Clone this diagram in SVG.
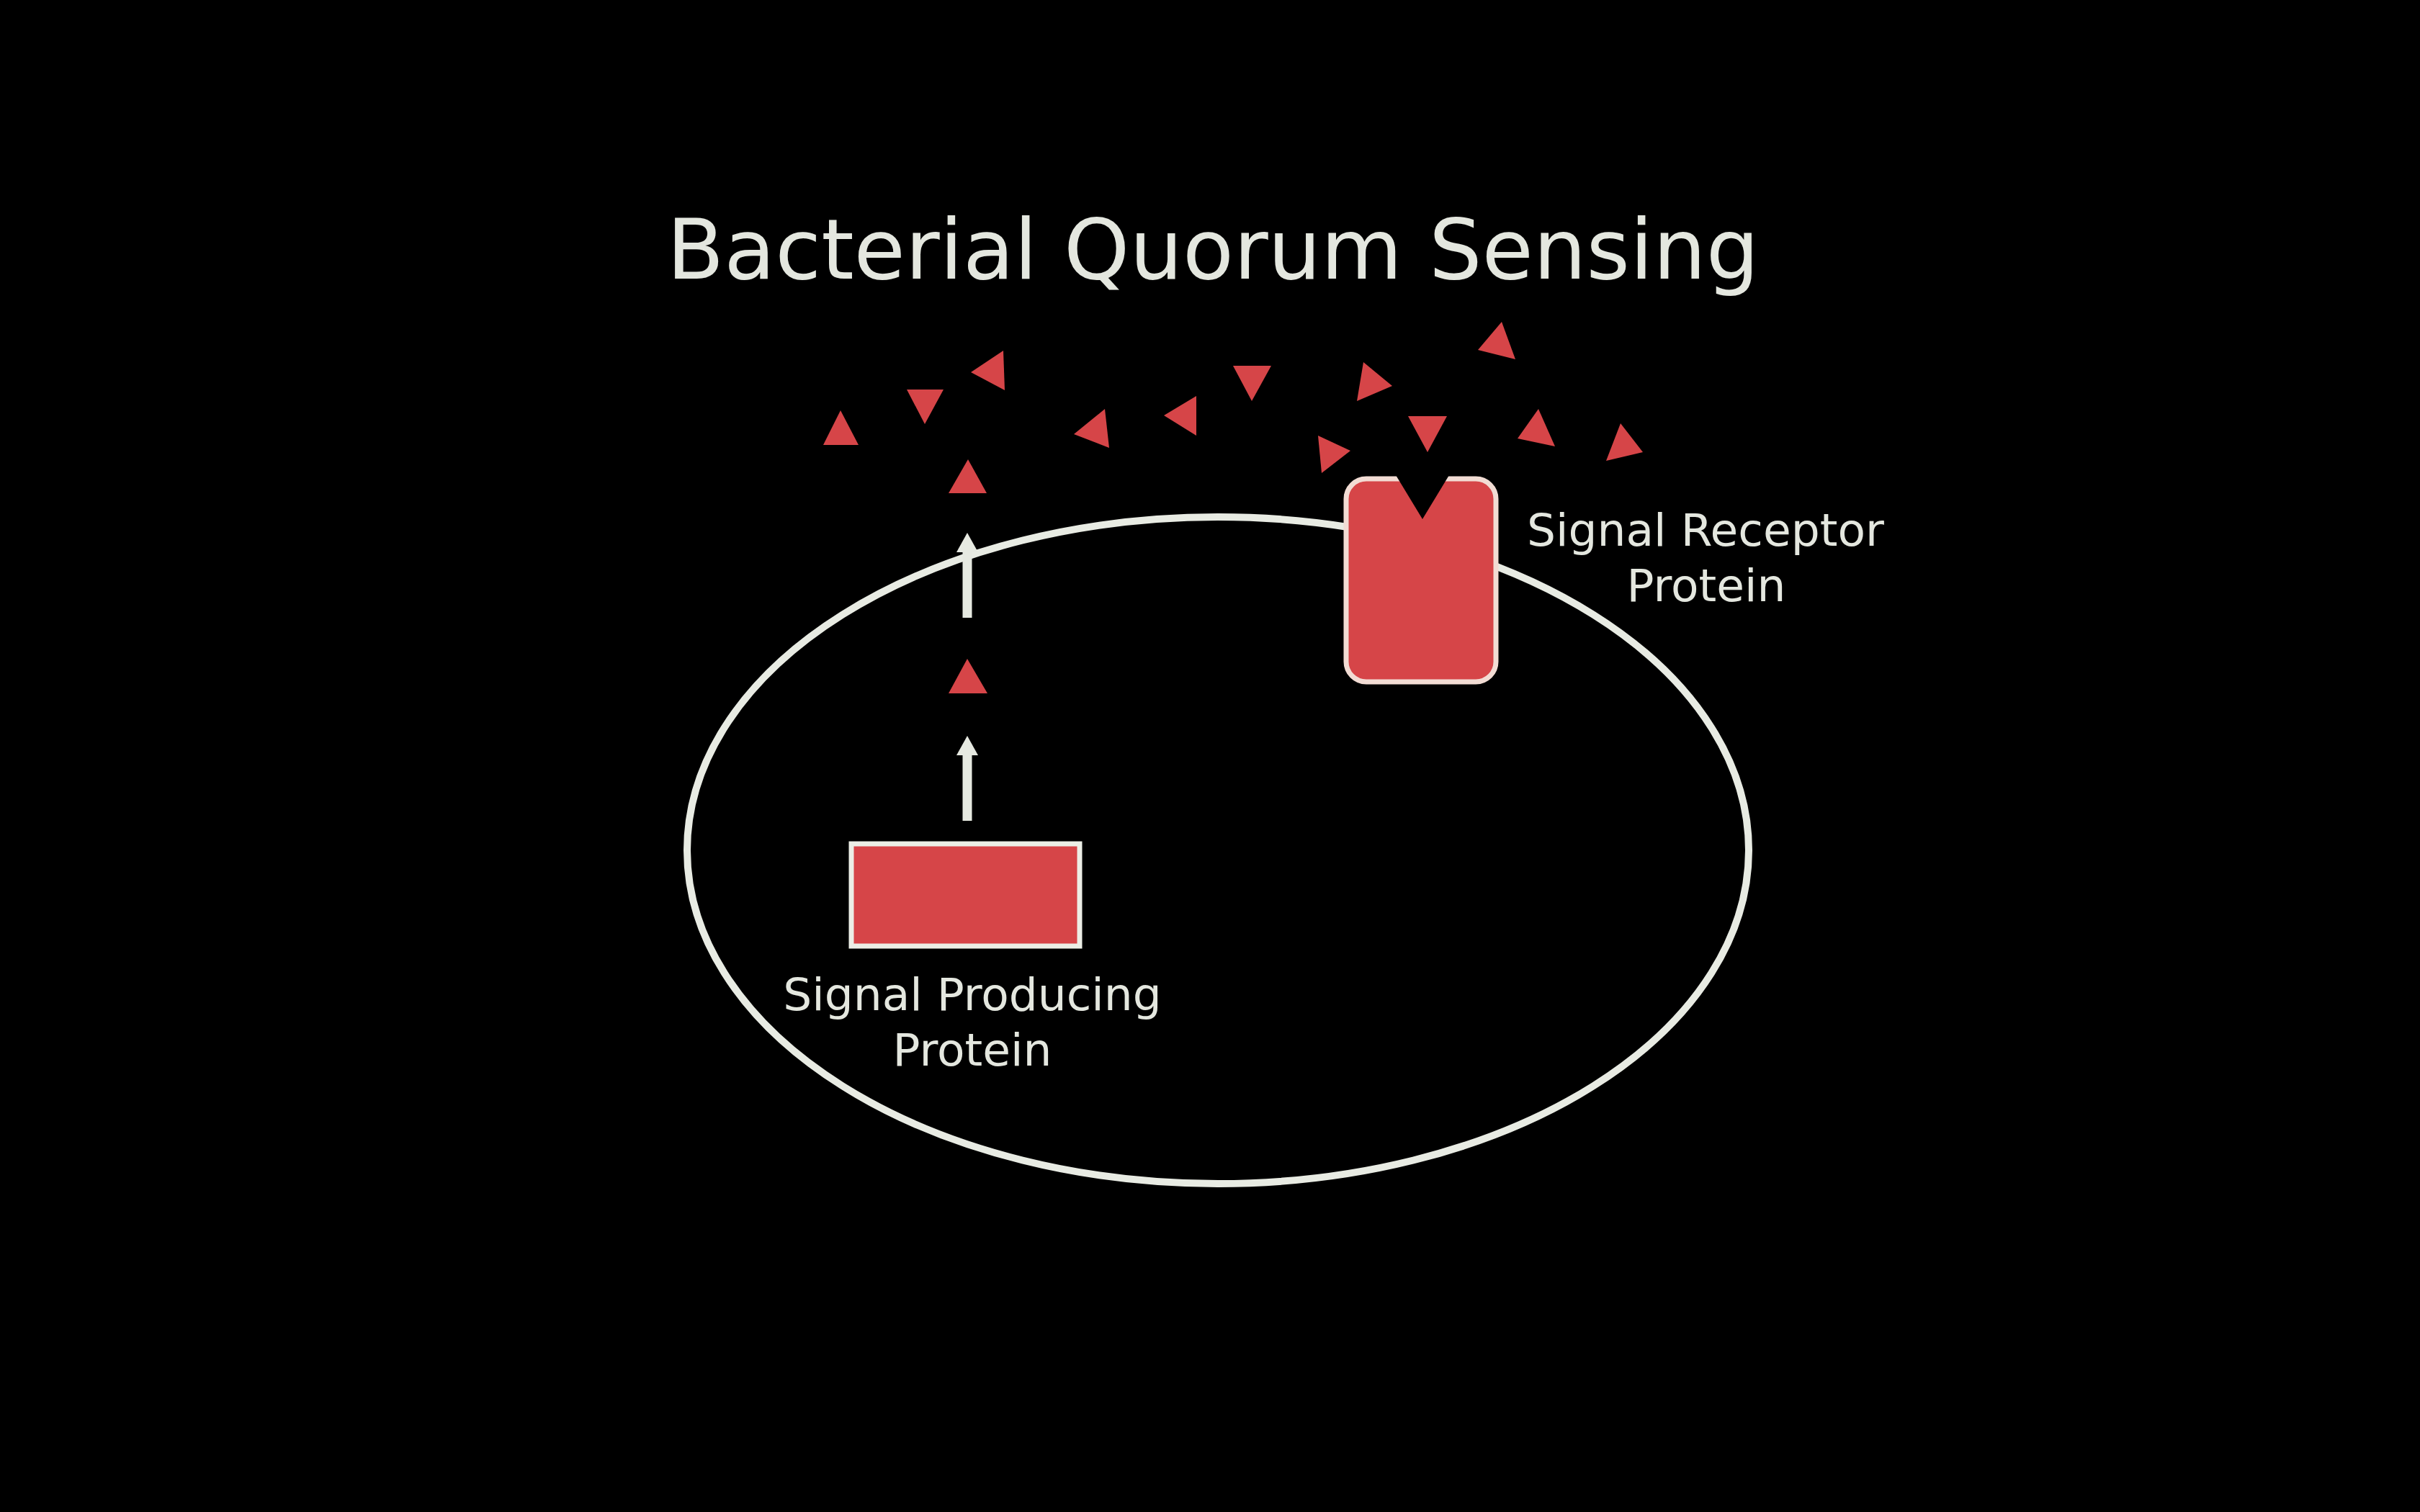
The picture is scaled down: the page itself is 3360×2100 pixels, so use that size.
<svg xmlns="http://www.w3.org/2000/svg" width="3360" height="2100" viewBox="0 0 3360 2100">
  <style>
    .lbl { font-family: "DejaVu Sans", Verdana, sans-serif; fill: #e4e7df; text-anchor: middle; }
    .sig { fill: #d64548; }
    .conn { stroke: #e6e9e1; stroke-width: 13; fill: none; }
  </style>
  <defs>
    <marker id="head" viewBox="0 0 27 30" markerWidth="27" markerHeight="30" markerUnits="userSpaceOnUse" refX="0" refY="15" orient="auto">
      <path d="M0,0 L27,15 L0,30 z" fill="#e6e9e1"/>
    </marker>
  </defs>
  <rect x="0" y="0" width="3360" height="2100" fill="#000"/>

  <g id="title">
    <text class="lbl" x="1684" y="387" font-size="116">Bacterial Quorum Sensing</text>
  </g>

  <g id="cell">
    <ellipse cx="1691" cy="1181" rx="737" ry="463" fill="none" stroke="#e8ebe3" stroke-width="10"/>
  </g>

  <g id="signals">
    <polygon class="sig" points="1167,570 1143,618 1192,618"/>
    <polygon class="sig" points="1259,541 1310,541 1284,589"/>
    <polygon class="sig" points="1393,487 1348,517 1395,542"/>
    <polygon class="sig" points="1344,638 1317,685 1370,685"/>
    <polygon class="sig" points="1343,915 1317,963 1371,963"/>
    <polygon class="sig" points="1534,568 1491,603 1540,622"/>
    <polygon class="sig" points="1661,550 1616,577 1661,605"/>
    <polygon class="sig" points="1712,508 1765,508 1738,557"/>
    <polygon class="sig" points="1893,503 1933,536 1884,557"/>
    <polygon class="sig" points="2085,447 2052,486 2104,499"/>
    <polygon class="sig" points="1955,578 2009,578 1982,628"/>
    <polygon class="sig" points="1830,605 1875,626 1835,657"/>
    <polygon class="sig" points="2136,568 2107,609 2159,620"/>
    <polygon class="sig" points="2250,588 2230,640 2281,628"/>
  </g>

  <g id="connectors">
    <line class="conn" x1="1343" y1="1140" x2="1343" y2="1049" marker-end="url(#head)"/>
    <line class="conn" x1="1343" y1="858" x2="1343" y2="767" marker-end="url(#head)"/>
  </g>

  <g id="producing-protein">
    <rect x="1182" y="1172" width="317" height="142" fill="#d64548" stroke="#eceee6" stroke-width="7"/>
    <text class="lbl" x="1350" y="1403" font-size="63">Signal Producing</text>
    <text class="lbl" x="1350" y="1480" font-size="63">Protein</text>
  </g>

  <g id="receptor-protein">
    <rect x="1869" y="665" width="208" height="282" rx="28" ry="28" fill="#d64548" stroke="#f2dcd4" stroke-width="7"/>
    <polygon points="1935,655 2015,655 1975,721" fill="#000"/>
    <text class="lbl" x="2368" y="758" font-size="63">Signal Receptor</text>
    <text class="lbl" x="2369" y="835" font-size="63">Protein</text>
  </g>
</svg>
